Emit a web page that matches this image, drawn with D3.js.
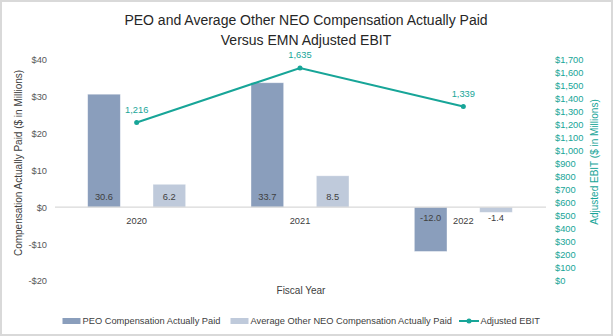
<!DOCTYPE html>
<html>
<head>
<meta charset="utf-8">
<script src="https://cdn.jsdelivr.net/npm/d3@7"></script>
<style>
  body { margin: 0; background: #fff; }
  text { font-family: "Liberation Sans", Arial, sans-serif; }
</style>
</head>
<body>
<div id="chart"></div>
<script>
const years = ['2020', '2021', '2022'];
const peoPaid = [30.6, 33.7, -12.0];
const neoPaid = [6.2, 8.5, -1.4];
const ebit = [1216, 1635, 1339];
const leftTicks = [-20, -10, 0, 10, 20, 30, 40];
const rightTicks = d3.range(0, 1701, 100);

const width = 613;
const height = 336;
const teal = '#17a598';

// d3.format uses a unicode minus; the original uses a plain hyphen
const fmt1 = v => (v < 0 ? '-' : '') + Math.abs(v).toFixed(1);

const svg = d3.select('#chart')
  .append('svg')
  .attr('width', width)
  .attr('height', height);

// outer frame
svg.append('rect')
  .attr('x', 1).attr('y', 1)
  .attr('width', width - 2).attr('height', height - 2)
  .attr('fill', '#fff')
  .attr('stroke', '#d9d9d9')
  .attr('stroke-width', 2);

const x0 = d3.scaleBand().domain(years).range([55, 545]);
const x1 = d3.scaleBand().domain(['peo', 'neo'])
  .range([0, x0.bandwidth()])
  .paddingInner(0.5)
  .paddingOuter(0.5);

const yLeft = d3.scaleLinear().domain([-20, 40]).range([281, 59.5]);
const yRight = d3.scaleLinear().domain([0, 1700]).range([281, 59.5]);

// title
svg.append('text')
  .attr('x', 306).attr('y', 25)
  .attr('text-anchor', 'middle')
  .attr('font-size', 14)
  .attr('fill', '#262626')
  .text('PEO and Average Other NEO Compensation Actually Paid');
svg.append('text')
  .attr('x', 306).attr('y', 45)
  .attr('text-anchor', 'middle')
  .attr('font-size', 14)
  .attr('fill', '#262626')
  .text('Versus EMN Adjusted EBIT');

// left axis
const leftAxis = svg.append('g')
  .attr('transform', 'translate(47,0)')
  .call(d3.axisLeft(yLeft).tickValues(leftTicks).tickSize(0).tickPadding(0)
    .tickFormat(d => (d < 0 ? '-$' : '$') + Math.abs(d)));
leftAxis.select('.domain').remove();
leftAxis.selectAll('text')
  .attr('font-size', 9.3)
  .attr('fill', '#595959');

// right axis
const rightAxis = svg.append('g')
  .attr('transform', 'translate(555,0)')
  .call(d3.axisRight(yRight).tickValues(rightTicks).tickSize(0).tickPadding(0)
    .tickFormat(d => '$' + d3.format(',')(d)));
rightAxis.select('.domain').remove();
rightAxis.selectAll('text')
  .attr('font-size', 9.3)
  .attr('fill', teal);

// axis titles
svg.append('text')
  .attr('transform', 'translate(22,163) rotate(-90)')
  .attr('text-anchor', 'middle')
  .attr('font-size', 10)
  .attr('fill', '#404040')
  .text('Compensation Actually Paid ($ in Millions)');
svg.append('text')
  .attr('transform', 'translate(598,162) rotate(-90)')
  .attr('text-anchor', 'middle')
  .attr('font-size', 10)
  .attr('fill', teal)
  .text('Adjusted EBIT ($ in Millions)');
svg.append('text')
  .attr('x', 301).attr('y', 294)
  .attr('text-anchor', 'middle')
  .attr('font-size', 10)
  .attr('fill', '#404040')
  .text('Fiscal Year');

// bars
const rows = years.map((y, i) => ({ year: y, peo: peoPaid[i], neo: neoPaid[i] }));
const series = [
  { key: 'peo', color: '#8a9ebc' },
  { key: 'neo', color: '#bfcadb' }
];

const groups = svg.append('g').selectAll('g')
  .data(rows)
  .enter()
  .append('g')
  .attr('transform', d => `translate(${x0(d.year)},0)`);

groups.selectAll('rect')
  .data(d => series.map(s => ({ key: s.key, color: s.color, value: d[s.key] })))
  .enter()
  .append('rect')
  .attr('x', d => x1(d.key))
  .attr('width', x1.bandwidth())
  .attr('y', d => yLeft(Math.max(0, d.value)))
  .attr('height', d => Math.abs(yLeft(d.value) - yLeft(0)))
  .attr('fill', d => d.color)
  .attr('stroke', '#ffffff')
  .attr('stroke-opacity', 0.5)
  .attr('stroke-width', 0.75);

groups.selectAll('text.val')
  .data(d => series.map(s => ({ key: s.key, value: d[s.key] })))
  .enter()
  .append('text')
  .attr('class', 'val')
  .attr('x', d => x1(d.key) + x1.bandwidth() / 2)
  .attr('y', d => d.value >= 0 ? yLeft(0) - 7 : yLeft(0) + 14)
  .attr('text-anchor', 'middle')
  .attr('font-size', 9.3)
  .attr('fill', '#404040')
  .text(d => fmt1(d.value));

// zero line
svg.append('line')
  .attr('x1', 55).attr('x2', 546)
  .attr('y1', yLeft(0)).attr('y2', yLeft(0))
  .attr('stroke', '#d9d9d9')
  .attr('stroke-width', 1.25);

// category labels
svg.append('g').selectAll('text')
  .data(years)
  .enter()
  .append('text')
  .attr('x', d => x0(d) + x0.bandwidth() / 2)
  .attr('y', yLeft(0) + 17)
  .attr('text-anchor', 'middle')
  .attr('font-size', 9.3)
  .attr('fill', '#404040')
  .text(d => d);

// EBIT line
const pts = years.map((y, i) => ({ year: y, value: ebit[i] }));
const line = d3.line()
  .x(d => x0(d.year) + x0.bandwidth() / 2)
  .y(d => yRight(d.value));

svg.append('path')
  .datum(pts)
  .attr('d', line)
  .attr('fill', 'none')
  .attr('stroke', teal)
  .attr('stroke-width', 2);

svg.append('g').selectAll('circle')
  .data(pts)
  .enter()
  .append('circle')
  .attr('cx', d => x0(d.year) + x0.bandwidth() / 2)
  .attr('cy', d => yRight(d.value))
  .attr('r', 2.5)
  .attr('fill', teal);

svg.append('g').selectAll('text')
  .data(pts)
  .enter()
  .append('text')
  .attr('x', d => x0(d.year) + x0.bandwidth() / 2)
  .attr('y', d => yRight(d.value) - 10)
  .attr('text-anchor', 'middle')
  .attr('font-size', 9.3)
  .attr('fill', teal)
  .text(d => d3.format(',')(d.value));

// legend
const legend = svg.append('g');
const legendY = 321;
legend.append('rect').attr('x', 62.5).attr('y', legendY - 3).attr('width', 18).attr('height', 6).attr('fill', '#8a9ebc');
legend.append('text').attr('x', 82.5).attr('y', legendY + 3.3).attr('font-size', 9.3).attr('fill', '#404040')
  .text('PEO Compensation Actually Paid');
legend.append('rect').attr('x', 230.5).attr('y', legendY - 3).attr('width', 18).attr('height', 6).attr('fill', '#bfcadb');
legend.append('text').attr('x', 250.5).attr('y', legendY + 3.3).attr('font-size', 9.3).attr('fill', '#404040')
  .text('Average Other NEO Compensation Actually Paid');
legend.append('line').attr('x1', 459).attr('x2', 479).attr('y1', legendY).attr('y2', legendY)
  .attr('stroke', teal).attr('stroke-width', 2);
legend.append('circle').attr('cx', 469).attr('cy', legendY).attr('r', 2.5).attr('fill', teal);
legend.append('text').attr('x', 480.5).attr('y', legendY + 3.3).attr('font-size', 9.3).attr('fill', '#404040')
  .text('Adjusted EBIT');
</script>
</body>
</html>
